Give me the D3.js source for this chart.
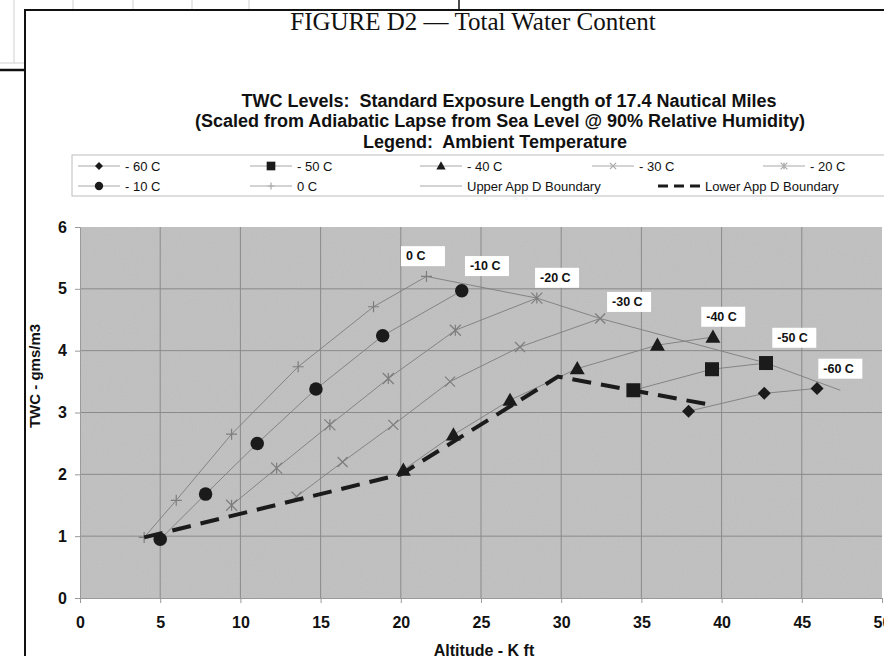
<!DOCTYPE html>
<html>
<head>
<meta charset="utf-8">
<script src="https://cdn.jsdelivr.net/npm/d3@7"></script>
<style>
  body { margin: 0; background: #fff; }
  svg { display: block; }
  text { white-space: pre; }
</style>
</head>
<body>
<div id="chart"></div>
<script>
// -------------------------------------------------------------------------
// Data

const altitudeTicks = [0, 5, 10, 15, 20, 25, 30, 35, 40, 45, 50];
const twcTicks = [0, 1, 2, 3, 4, 5, 6];

const alt0 = [4, 6, 9.45, 13.6, 18.3, 21.6];
const twc0 = [0.98, 1.58, 2.65, 3.74, 4.71, 5.2];
const altM10 = [5, 7.83, 11.05, 14.71, 18.87, 23.8];
const twcM10 = [0.95, 1.68, 2.5, 3.38, 4.24, 4.97];
const altM20 = [9.45, 12.26, 15.58, 19.22, 23.4, 28.48];
const twcM20 = [1.5, 2.1, 2.8, 3.55, 4.33, 4.85];
const altM30 = [13.5, 16.37, 19.53, 23.07, 27.43, 32.43];
const twcM30 = [1.64, 2.2, 2.8, 3.5, 4.06, 4.52];
const altM40 = [20.16, 23.28, 26.81, 31.0, 36.0, 39.46];
const twcM40 = [2.07, 2.64, 3.2, 3.71, 4.09, 4.22];
const altM50 = [34.5, 39.4, 42.77];
const twcM50 = [3.36, 3.7, 3.8];
const altM60 = [37.94, 42.66, 45.95];
const twcM60 = [3.02, 3.31, 3.39];

const upperAlt = [21.6, 28.48, 32.43, 42.77, 47.4];
const upperTwc = [5.2, 4.85, 4.52, 3.8, 3.36];
const lowerAlt = [4, 20, 29.8, 39.2];
const lowerTwc = [0.98, 2.0, 3.58, 3.13];

// data labels (top-left corner of each white box, in data units)
const labelText = ['0 C', '-10 C', '-20 C', '-30 C', '-40 C', '-50 C', '-60 C'];
const labelAlt = [20.01, 24.0, 28.37, 32.86, 38.73, 43.16, 46.03];
const labelTwc = [5.69, 5.53, 5.34, 4.95, 4.71, 4.37, 3.87];

const legendNames = ['- 60 C', '- 50 C', '- 40 C', '- 30 C', '- 20 C',
  '- 10 C', '0 C', 'Upper App D Boundary', 'Lower App D Boundary'];

const titleLines = [
  'TWC Levels:  Standard Exposure Length of 17.4 Nautical Miles',
  '(Scaled from Adiabatic Lapse from Sea Level @ 90% Relative Humidity)',
  'Legend:  Ambient Temperature'
];

// -------------------------------------------------------------------------
// Layout

const width = 884;
const height = 656;
const plot = { left: 80, right: 882, top: 227, bottom: 598 };
const black = '#1b1b1b';
const lineGrey = '#7d7d7d';
const lightGrey = '#a8a8a8';

const svg = d3.select('#chart')
  .append('svg')
  .attr('width', width)
  .attr('height', height)
  .style('font-family', 'Arial, "Liberation Sans", Helvetica, sans-serif');

const x = d3.scaleLinear().domain([0, 50]).range([plot.left, plot.right]);
const y = d3.scaleLinear().domain([0, 6]).range([plot.bottom, plot.top]);

const zip = (xs, ys) => xs.map((v, i) => [v, ys[i]]);

const series = [
  { name: '- 60 C', pts: zip(altM60, twcM60), marker: 'diamond', color: black, size: 13 },
  { name: '- 50 C', pts: zip(altM50, twcM50), marker: 'square', color: black, size: 14 },
  { name: '- 40 C', pts: zip(altM40, twcM40), marker: 'triangle', color: black, size: 15 },
  { name: '- 30 C', pts: zip(altM30, twcM30), marker: 'x', color: lineGrey, size: 10 },
  { name: '- 20 C', pts: zip(altM20, twcM20), marker: 'star', color: lineGrey, size: 11 },
  { name: '- 10 C', pts: zip(altM10, twcM10), marker: 'circle', color: black, size: 13.5 },
  { name: '0 C', pts: zip(alt0, twc0), marker: 'plus', color: lineGrey, size: 11 }
];

/**
 * marker glyph centred on 0,0
 */
function markerPath(type, s) {
  const h = s / 2;
  switch (type) {
    case 'diamond':
      return `M0,${-h}L${h},0L0,${h}L${-h},0Z`;
    case 'square':
      return `M${-h},${-h}H${h}V${h}H${-h}Z`;
    case 'triangle':
      return `M0,${-h}L${h},${h * 0.75}L${-h},${h * 0.75}Z`;
    case 'circle':
      return d3.symbol(d3.symbolCircle, Math.PI * h * h)();
    case 'x':
      return `M${-h},${-h}L${h},${h}M${-h},${h}L${h},${-h}`;
    case 'star':
      return `M${-h},${-h}L${h},${h}M${-h},${h}L${h},${-h}M0,${-h}V${h}`;
    case 'plus':
      return `M${-h},0H${h}M0,${-h}V${h}`;
  }
  return '';
}
const filled = t => ['diamond', 'square', 'triangle', 'circle'].includes(t);

function drawMarker(g, type, s, color, cx, cy) {
  const p = g.append('path')
    .attr('d', markerPath(type, s))
    .attr('transform', `translate(${cx},${cy})`);
  if (filled(type)) {
    p.attr('fill', color).attr('stroke', 'none');
  } else {
    p.attr('fill', 'none').attr('stroke', color).attr('stroke-width', 1.2);
  }
}

// -------------------------------------------------------------------------
// Page decorations (scanned document frame)

function drawFrame() {
  const deco = svg.append('g').attr('id', 'frame');
  [73, 133, 192, 249].forEach(px => {
    deco.append('line').attr('x1', px).attr('x2', px).attr('y1', 0).attr('y2', 10)
      .attr('stroke', '#d0d0d0');
  });
  deco.append('line').attr('x1', 14).attr('x2', 14).attr('y1', 0).attr('y2', 63)
    .attr('stroke', '#d0d0d0');
  deco.append('line').attr('x1', 0).attr('x2', 25).attr('y1', 63).attr('y2', 63)
    .attr('stroke', '#d0d0d0');
  deco.append('line').attr('x1', 0).attr('x2', 25).attr('y1', 70).attr('y2', 70)
    .attr('stroke', '#111').attr('stroke-width', 2.5);
  deco.append('line').attr('x1', 459).attr('x2', 459).attr('y1', 0).attr('y2', 10)
    .attr('stroke', '#111').attr('stroke-width', 1.5);
  deco.append('line').attr('x1', 24).attr('x2', width).attr('y1', 10).attr('y2', 10)
    .attr('stroke', '#111').attr('stroke-width', 2);
  deco.append('line').attr('x1', 25).attr('x2', 25).attr('y1', 10).attr('y2', height)
    .attr('stroke', '#111').attr('stroke-width', 2);

  svg.append('text')
    .attr('x', 473).attr('y', 30)
    .attr('text-anchor', 'middle')
    .style('font-family', '"Liberation Serif", "Times New Roman", serif')
    .style('font-size', '25px')
    .attr('fill', '#111')
    .text('FIGURE D2 \u2014 Total Water Content');
}

// -------------------------------------------------------------------------
// Titles and legend

function drawTitles() {
  const cx = [509, 500, 495];
  const base = [107, 127, 148];
  titleLines.forEach((t, i) => {
    svg.append('text')
      .attr('x', cx[i]).attr('y', base[i])
      .attr('text-anchor', 'middle')
      .style('font-size', '18px')
      .style('font-weight', 'bold')
      .attr('fill', '#111')
      .text(t);
  });
}

function drawLegend() {
  const lg = svg.append('g').attr('id', 'legend');
  lg.append('rect')
    .attr('x', 72).attr('y', 155).attr('width', 830).attr('height', 41)
    .attr('fill', '#fff').attr('stroke', '#bdbdbd');

  const colX = [78, 250, 420, 592, 763, 78, 250, 420, 658];
  const rowY = [166, 166, 166, 166, 166, 186, 186, 186, 186];
  legendNames.forEach((name, i) => {
    const x0 = colX[i];
    const y0 = rowY[i];
    const s = series.find(d => d.name === name);
    if (name.startsWith('Lower')) {
      lg.append('line').attr('x1', x0).attr('x2', x0 + 44).attr('y1', y0).attr('y2', y0)
        .attr('stroke', black).attr('stroke-width', 3).attr('stroke-dasharray', '10,6');
    } else {
      lg.append('line').attr('x1', x0).attr('x2', x0 + 42).attr('y1', y0).attr('y2', y0)
        .attr('stroke', lightGrey).attr('stroke-width', 1);
    }
    if (s) {
      const c = s.color === black ? black : lightGrey;
      drawMarker(lg, s.marker, s.size * 0.62, c, x0 + 21, y0);
    }
    lg.append('text')
      .attr('x', x0 + 47).attr('y', y0 + 4.5)
      .style('font-size', '13px')
      .attr('fill', '#111')
      .text(name);
  });
}

// -------------------------------------------------------------------------
// Plot area

function drawPlot() {
  const defs = svg.append('defs');
  const noise = defs.append('filter').attr('id', 'grain')
    .attr('x', 0).attr('y', 0).attr('width', '100%').attr('height', '100%');
  noise.append('feTurbulence').attr('type', 'fractalNoise')
    .attr('baseFrequency', 0.9).attr('numOctaves', 1).attr('seed', 3);
  noise.append('feColorMatrix').attr('type', 'saturate').attr('values', 0);

  svg.append('rect')
    .attr('x', plot.left).attr('y', plot.top)
    .attr('width', plot.right - plot.left).attr('height', plot.bottom - plot.top)
    .attr('fill', '#c0c0c0');
  svg.append('rect')
    .attr('x', plot.left).attr('y', plot.top)
    .attr('width', plot.right - plot.left).attr('height', plot.bottom - plot.top)
    .attr('filter', 'url(#grain)')
    .attr('opacity', 0.12);

  // gridlines
  const grid = svg.append('g').attr('id', 'grid');
  grid.selectAll('.vgrid').data(altitudeTicks.slice(1, -1)).enter()
    .append('line')
    .attr('x1', d => x(d)).attr('x2', d => x(d))
    .attr('y1', plot.top).attr('y2', plot.bottom)
    .attr('stroke', '#8a8a8a').attr('stroke-width', 1);
  grid.selectAll('.hgrid').data(twcTicks.slice(1, -1)).enter()
    .append('line')
    .attr('x1', plot.left).attr('x2', plot.right)
    .attr('y1', d => y(d)).attr('y2', d => y(d))
    .attr('stroke', '#8a8a8a').attr('stroke-width', 1);

  // axes
  const xAxis = svg.append('g')
    .attr('transform', `translate(0,${plot.bottom})`)
    .call(d3.axisBottom(x).tickValues(altitudeTicks).tickFormat(d3.format('d'))
      .tickSize(5).tickPadding(14));
  const yAxis = svg.append('g')
    .attr('transform', `translate(${plot.left},0)`)
    .call(d3.axisLeft(y).tickValues(twcTicks).tickFormat(d3.format('d'))
      .tickSize(5).tickPadding(8));
  [xAxis, yAxis].forEach(a => {
    a.select('.domain').attr('stroke', '#9a9a9a');
    a.selectAll('.tick line').attr('stroke', '#9a9a9a');
    a.selectAll('.tick text')
      .attr('fill', '#111')
      .style('font-size', '16px')
      .style('font-weight', 'bold')
      .style('font-family', 'Arial, "Liberation Sans", sans-serif');
  });

  svg.append('text')
    .attr('x', (plot.left + plot.right) / 2 + 3).attr('y', 656)
    .attr('text-anchor', 'middle')
    .style('font-size', '16px').style('font-weight', 'bold')
    .attr('fill', '#111')
    .text('Altitude - K ft');
  svg.append('text')
    .attr('transform', 'translate(40,376) rotate(-90)')
    .attr('text-anchor', 'middle')
    .style('font-size', '15px').style('font-weight', 'bold')
    .attr('fill', '#111')
    .text('TWC - gms/m3');

  const line = d3.line().x(d => x(d[0])).y(d => y(d[1]));
  const lines = svg.append('g').attr('id', 'series');

  series.forEach(s => {
    lines.append('path')
      .attr('d', line(s.pts))
      .attr('fill', 'none')
      .attr('stroke', lineGrey)
      .attr('stroke-width', 0.9);
  });
  lines.append('path')
    .attr('d', line(zip(upperAlt, upperTwc)))
    .attr('fill', 'none').attr('stroke', lineGrey).attr('stroke-width', 0.9);

  const marks = svg.append('g').attr('id', 'markers');
  series.forEach(s => {
    s.pts.forEach(p => drawMarker(marks, s.marker, s.size, s.color, x(p[0]), y(p[1])));
  });

  svg.append('path')
    .attr('d', line(zip(lowerAlt, lowerTwc)))
    .attr('fill', 'none')
    .attr('stroke', black)
    .attr('stroke-width', 4)
    .attr('stroke-dasharray', '19,10');

  // data labels
  const labels = svg.append('g').attr('id', 'labels');
  labelText.forEach((t, i) => {
    const bx = x(labelAlt[i]);
    const by = y(labelTwc[i]);
    labels.append('rect')
      .attr('x', bx).attr('y', by).attr('width', 44).attr('height', 20)
      .attr('fill', '#fff');
    labels.append('text')
      .attr('x', bx + 5).attr('y', by + 14)
      .style('font-size', '12.5px').style('font-weight', 'bold')
      .attr('fill', '#111')
      .text(t);
  });
}

drawFrame();
drawTitles();
drawLegend();
drawPlot();
</script>
</body>
</html>
